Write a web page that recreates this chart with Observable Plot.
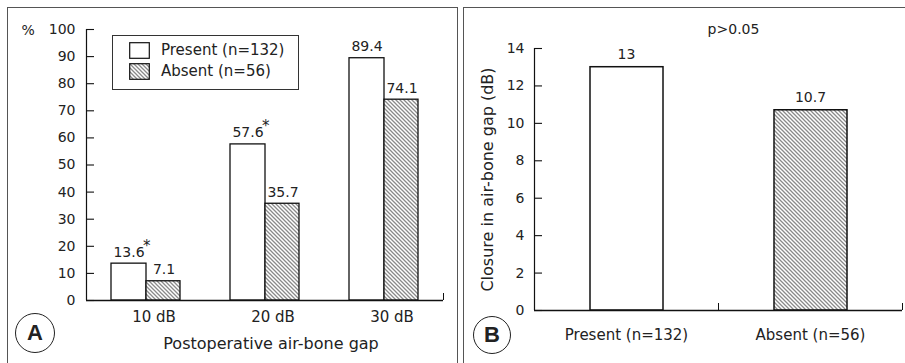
<!DOCTYPE html>
<html>
<head>
<meta charset="utf-8">
<script src="https://cdn.jsdelivr.net/npm/d3@7"></script>
<script src="https://cdn.jsdelivr.net/npm/@observablehq/plot@0.6"></script>
<style>
  html, body { margin: 0; padding: 0; background: #fff; }
  body { width: 905px; height: 363px; position: relative; overflow: hidden; font-family: "DejaVu Sans", sans-serif; color: #222; }
  .panel { position: absolute; border-top: 1.5px solid #555; border-left: 1.5px solid #555; }
  .badge { position: absolute; border: 1.3px solid #222; border-radius: 50%; display: flex; align-items: center; justify-content: center; font-weight: bold; font-size: 22px; font-family: "Liberation Sans", Arial, sans-serif; box-sizing: border-box; }
  .legend { position: absolute; border: 1.3px solid #333; box-sizing: border-box; font-size: 15px; }
  .legend .row { position: absolute; left: 16px; display: flex; align-items: center; }
  .legend .row span { margin-left: 11px; }
</style>
</head>
<body>
<svg width="0" height="0" style="position:absolute">
  <defs>
    <pattern id="hatch" patternUnits="userSpaceOnUse" width="4" height="4">
      <rect width="4" height="4" fill="white"/>
      <path d="M-1,-1 L5,5 M-1,3 L1,5 M3,-1 L5,1" stroke="#8a8a8a" stroke-width="1.3"/>
    </pattern>
  </defs>
</svg>
<div id="root"></div>
<script>
// ---- Data: panel A ----
const categoriesA = ["10 dB", "20 dB", "30 dB"];
const seriesA = ["Present (n=132)", "Absent (n=56)"];
const presentA = [13.6, 57.6, 89.4];
const absentA = [7.1, 35.7, 74.1];
const significantA = [true, true, false];
const yTicksA = [0, 10, 20, 30, 40, 50, 60, 70, 80, 90, 100];
const xTitleA = "Postoperative air-bone gap";
const yUnitA = "%";

// ---- Data: panel B ----
const categoriesB = ["Present (n=132)", "Absent (n=56)"];
const valuesB = [13, 10.7];
const yTicksB = [0, 2, 4, 6, 8, 10, 12, 14];
const yTitleB = "Closure in air-bone gap (dB)";
const pNote = "p>0.05";

const panelLetters = ["A", "B"];

const FONT = "'DejaVu Sans', sans-serif";
const root = document.getElementById("root");

// ---------- Panel A ----------
const rowsP = categoriesA.map((c, i) => ({cat: c, i, value: presentA[i], sig: significantA[i]}));
const rowsA = categoriesA.map((c, i) => ({cat: c, i, value: absentA[i]}));

const plotA = Plot.plot({
  width: 460, height: 363,
  marginLeft: 86, marginRight: 17, marginTop: 29, marginBottom: 63,
  x: {domain: [0, categoriesA.length], axis: null},
  y: {domain: [0, 100], axis: null},
  style: {fontFamily: FONT, fontSize: "14px", color: "#222", background: "transparent", overflow: "visible"},
  marks: [
    Plot.rectY(rowsP, {x1: "i", x2: d => d.i + 1, y: "value", insetLeft: 25, insetRight: 59, fill: "white", stroke: "#111", strokeWidth: 1.3}),
    Plot.rectY(rowsA, {x1: "i", x2: d => d.i + 1, y: "value", insetLeft: 60, insetRight: 25, fill: "url(#hatch)", stroke: "#111", strokeWidth: 1.3}),
    Plot.ruleY([0], {stroke: "#111", strokeWidth: 1.3}),
    Plot.ruleX([0], {stroke: "#111", strokeWidth: 1.2}),
    Plot.ruleY(yTicksA, {y: d => d, x1: 0, x2: 0, insetRight: -8, stroke: "#111", strokeWidth: 1.1}),
    Plot.axisY(yTicksA, {tickSize: 0, tickPadding: 11, label: null, fontSize: 14}),
    Plot.axisX([categoriesA.length], {tickSize: 7, dy: -7, tickFormat: () => "", label: null, stroke: "#111"}),
    Plot.axisX(categoriesA.map((c, i) => i + 0.5), {
      tickSize: 0, tickPadding: 11, dx: 8,
      tickFormat: v => categoriesA[Math.floor(v)],
      label: null, fontSize: 15
    }),
    Plot.text([xTitleA], {frameAnchor: "bottom", dx: 6, dy: 43, lineAnchor: "middle", fontSize: 16}),
    Plot.text(rowsP, {x: d => d.i + 0.5, y: "value", text: d => d.value.toFixed(1), dx: -17, dy: -7, lineAnchor: "bottom", fontSize: 14}),
    Plot.text(rowsP.filter(d => d.sig), {x: d => d.i + 0.5, y: "value", text: () => "*", dx: -3, dy: -13, textAnchor: "start", lineAnchor: "bottom", fontSize: 15}),
    Plot.text(rowsA, {x: d => d.i + 0.5, y: "value", text: d => d.value.toFixed(1), dx: 18, dy: -7, lineAnchor: "bottom", fontSize: 14}),
    Plot.text([yUnitA], {frameAnchor: "top-left", dx: -65, dy: 1, lineAnchor: "middle", fontSize: 14})
  ]
});
plotA.style.position = "absolute";
plotA.style.left = "0px";
plotA.style.top = "0px";
root.appendChild(plotA);

// ---------- Panel B ----------
const rowsB = categoriesB.map((c, i) => ({cat: c, i, value: valuesB[i]}));
const fillsB = ["white", "url(#hatch)"];

const plotB = Plot.plot({
  width: 445, height: 363,
  marginLeft: 74, marginRight: 3, marginTop: 48, marginBottom: 53,
  x: {domain: [0, categoriesB.length], axis: null},
  y: {domain: [0, 14], axis: null},
  style: {fontFamily: FONT, fontSize: "14px", color: "#222", background: "transparent", overflow: "visible"},
  marks: [
    Plot.rectY(rowsB, {x1: "i", x2: d => d.i + 1, y: "value", insetLeft: 56, insetRight: 55, fill: d => fillsB[d.i], stroke: "#111", strokeWidth: 1.5}),
    Plot.ruleY([0], {stroke: "#111", strokeWidth: 1.3}),
    Plot.ruleX([0], {stroke: "#111", strokeWidth: 1.2}),
    Plot.ruleY(yTicksB, {y: d => d, x1: 0, x2: 0, insetRight: -8, stroke: "#111", strokeWidth: 1.1}),
    Plot.axisY(yTicksB, {tickSize: 0, tickPadding: 10, label: null, fontSize: 14}),
    Plot.text([yTitleB], {frameAnchor: "left", rotate: -90, dx: -47, textAnchor: "middle", lineAnchor: "middle", fontSize: 16}),
    Plot.axisX(categoriesB.map((c, i) => i + 1), {tickSize: 7, dy: -7, tickFormat: () => "", label: null, stroke: "#111"}),
    Plot.axisX(categoriesB.map((c, i) => i + 0.5), {tickSize: 0, tickPadding: 19, tickFormat: v => categoriesB[Math.floor(v)], label: null, fontSize: 15}),
    Plot.text(rowsB, {x: d => d.i + 0.5, y: "value", text: d => String(d.value), dy: -8, lineAnchor: "bottom", fontSize: 14}),
    Plot.text([pNote], {frameAnchor: "top", dx: 15, dy: -19, lineAnchor: "middle", fontSize: 14})
  ]
});
plotB.style.position = "absolute";
plotB.style.left = "460px";
plotB.style.top = "0px";
root.appendChild(plotB);

// ---------- Frames ----------
const frameA = document.createElement("div");
frameA.className = "panel";
Object.assign(frameA.style, {left: "7px", top: "7px", width: "449px", height: "400px", borderRight: "1.5px solid #555"});
document.body.insertBefore(frameA, root);
const frameB = document.createElement("div");
frameB.className = "panel";
Object.assign(frameB.style, {left: "463px", top: "7px", width: "460px", height: "400px"});
document.body.insertBefore(frameB, root);

// ---------- Legend (panel A) ----------
const legend = document.createElement("div");
legend.className = "legend";
Object.assign(legend.style, {left: "112px", top: "35px", width: "187px", height: "55px", background: "white"});
const swFills = ["white", "url(#hatch)"];
seriesA.forEach((s, k) => {
  const row = document.createElement("div");
  row.className = "row";
  row.style.top = (k === 0 ? 5 : 26) + "px";
  row.innerHTML = `<svg width="21" height="17"><rect x="0.7" y="0.7" width="19.6" height="15.6" fill="${swFills[k]}" stroke="#111" stroke-width="1.2"/></svg><span>${s}</span>`;
  legend.appendChild(row);
});
root.appendChild(legend);

// ---------- Panel letters ----------
[[15, 313, 40], [473, 316, 38]].forEach(([l, t, d], k) => {
  const b = document.createElement("div");
  b.className = "badge";
  Object.assign(b.style, {left: l + "px", top: t + "px", width: d + "px", height: d + "px"});
  b.textContent = panelLetters[k];
  root.appendChild(b);
});
</script>
</body>
</html>
